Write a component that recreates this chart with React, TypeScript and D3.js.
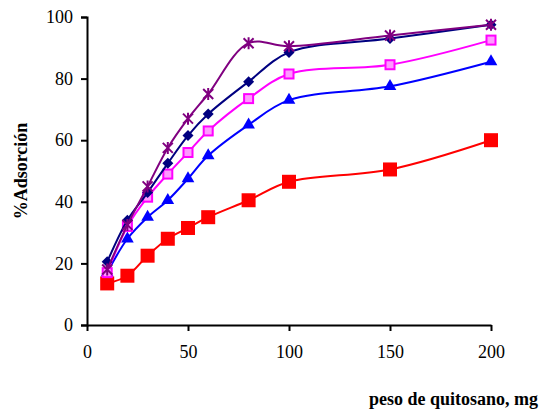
import { useEffect, useRef } from "react";
import * as d3 from "d3";

const doses = [10, 20, 30, 40, 50, 60, 80, 100, 150, 200];
const redSeries = [13.5, 16, 22.5, 28, 31.5, 35, 40.5, 46.5, 50.5, 60];
const blueSeries = [17, 28, 35, 40.5, 47.5, 55, 65, 73, 77.5, 85.5];
const pinkSeries = [17, 32, 41.5, 49, 56, 63, 73.5, 81.5, 84.5, 92.5];
const navySeries = [20.5, 34, 43, 52.5, 61.5, 68.5, 79, 88.5, 93, 97.5];
const purpleSeries = [18, 32.5, 45, 57.5, 67, 75, 91.5, 90.5, 94, 97.5];
const xTicks = [0, 50, 100, 150, 200];
const yTicks = [0, 20, 40, 60, 80, 100];

const series = [
  { name: "red", values: redSeries, color: "#ff0000", marker: "bigsquare" },
  { name: "blue", values: blueSeries, color: "#0000ff", marker: "triangle" },
  { name: "pink", values: pinkSeries, color: "#ff00ff", marker: "opensquare" },
  { name: "navy", values: navySeries, color: "#000080", marker: "diamond" },
  { name: "purple", values: purpleSeries, color: "#800080", marker: "star" },
];

const font = "'Times New Roman', Times, 'Liberation Serif', 'DejaVu Serif', serif";

const App = () => {
  const ref = useRef<SVGSVGElement>(null);

  useEffect(() => {
    const svg = d3.select(ref.current);
    svg.selectAll("*").remove();

    const x = d3.scaleLinear().domain([0, 200]).range([87, 491]);
    const y = d3.scaleLinear().domain([0, 100]).range([325, 17]);

    // axes
    const xAxis = svg.append("g").attr("transform", "translate(0,325)")
      .call(d3.axisBottom(x).tickValues(xTicks).tickSize(6).tickSizeOuter(0).tickPadding(14));
    xAxis.attr("font-family", font).attr("font-size", 18);
    xAxis.select(".domain").attr("stroke-width", 2);
    xAxis.selectAll(".tick line").attr("stroke-width", 2);
    xAxis.selectAll("text").attr("fill", "#000");

    const yAxis = svg.append("g").attr("transform", "translate(87,0)")
      .call(d3.axisLeft(y).tickValues(yTicks).tickSize(6).tickSizeOuter(6).tickPadding(8));
    yAxis.attr("font-family", font).attr("font-size", 18);
    yAxis.select(".domain").attr("stroke-width", 2);
    yAxis.selectAll(".tick line").attr("stroke-width", 2);
    yAxis.selectAll("text").attr("fill", "#000");

    const line = d3.line<number>()
      .x((d, i) => x(doses[i]))
      .y((d) => y(d))
      .curve(d3.curveCatmullRom.alpha(0.5));

    series.forEach((s) => {
      const g = svg.append("g");
      g.append("path").attr("d", line(s.values))
        .attr("fill", "none").attr("stroke", s.color).attr("stroke-width", 2);

      s.values.forEach((v, i) => {
        const cx = x(doses[i]);
        const cy = y(v);
        if (s.marker === "bigsquare") {
          g.append("rect").attr("x", cx - 7).attr("y", cy - 7).attr("width", 14).attr("height", 14)
            .attr("fill", s.color);
        } else if (s.marker === "opensquare") {
          g.append("rect").attr("x", cx - 4.5).attr("y", cy - 4.5).attr("width", 9).attr("height", 9)
            .attr("fill", "#ff99ff").attr("stroke", s.color).attr("stroke-width", 2);
        } else if (s.marker === "triangle") {
          g.append("path").attr("d", d3.symbol(d3.symbolTriangle, 70)())
            .attr("transform", `translate(${cx},${cy})`).attr("fill", s.color);
        } else if (s.marker === "diamond") {
          g.append("path").attr("d", `M0,-5.5L5.5,0L0,5.5L-5.5,0Z`)
            .attr("transform", `translate(${cx},${cy})`).attr("fill", s.color);
        } else {
          g.append("path").attr("d", "M-5,-5L5,5M-5,5L5,-5M0,-6L0,6")
            .attr("transform", `translate(${cx},${cy})`)
            .attr("stroke", s.color).attr("stroke-width", 2).attr("fill", "none");
        }
      });
    });

    // titles
    svg.append("text").attr("x", 538).attr("y", 405).attr("text-anchor", "end")
      .attr("font-family", font).attr("font-size", 18).attr("font-weight", "bold")
      .text("peso de quitosano, mg");

    svg.append("text").attr("transform", "translate(27,171) rotate(-90)").attr("text-anchor", "middle")
      .attr("font-family", font).attr("font-size", 18).attr("font-weight", "bold")
      .text("%Adsorción");
  }, []);

  return (
    <svg ref={ref} width={540} height={409}
      style={{ position: "absolute", left: 0, top: 0, background: "#fff" }} />
  );
};

export default App;
